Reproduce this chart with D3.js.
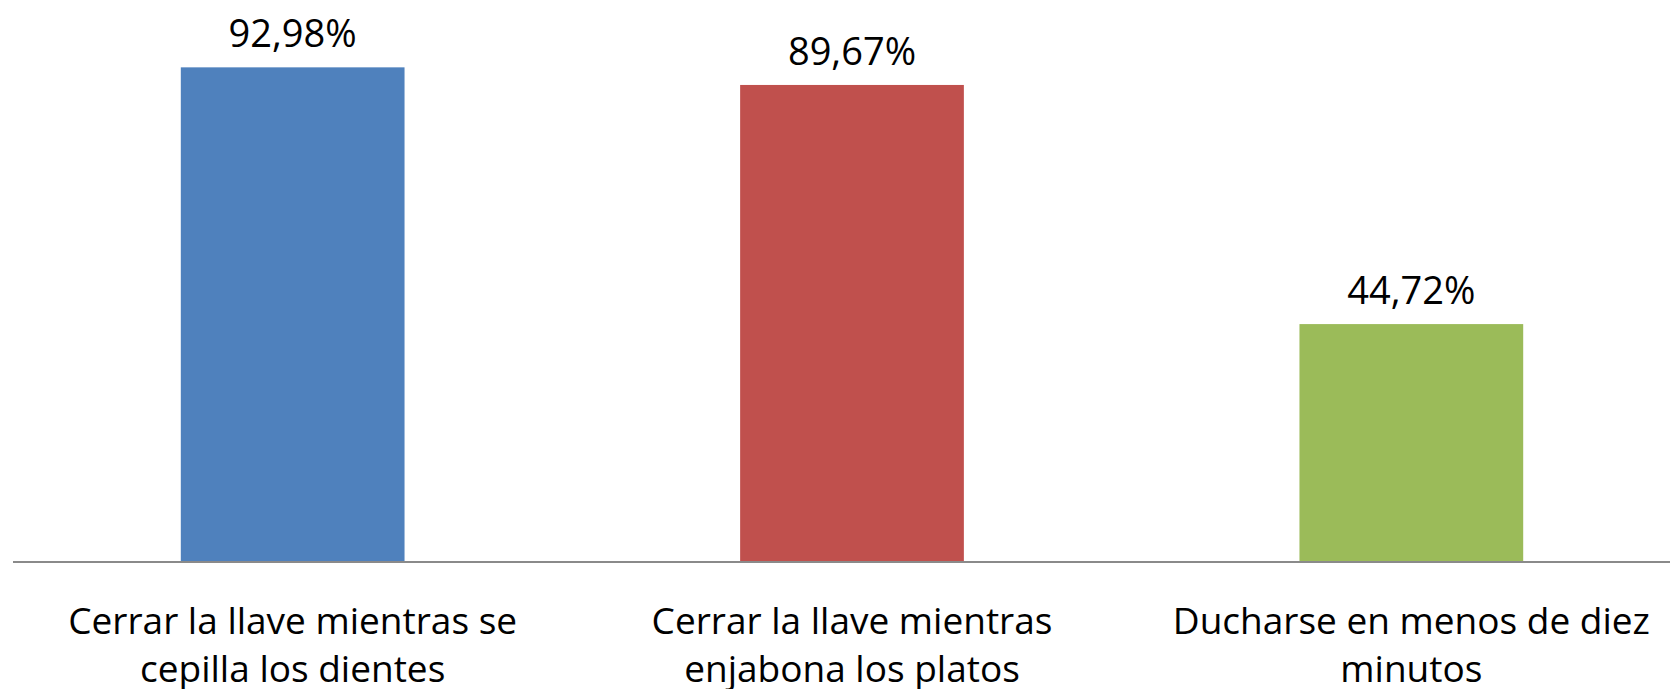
<!DOCTYPE html>
<html>
<head>
<meta charset="utf-8">
<script src="https://cdn.jsdelivr.net/npm/d3@7"></script>
<style>
  html, body { margin: 0; padding: 0; background: #ffffff; }
  svg { display: block; }
  text { font-family: "Open Sans", "Noto Sans", sans-serif; fill: #000; }
</style>
</head>
<body>
<svg id="chart" width="1670" height="689"></svg>
<script>
const categories = [
  ["Cerrar la llave mientras se", "cepilla los dientes"],
  ["Cerrar la llave mientras", "enjabona los platos"],
  ["Ducharse en menos de diez", "minutos"]
];
const values = [92.98, 89.67, 44.72];
const valueLabels = ["92,98%", "89,67%", "44,72%"];
const colors = ["#4F81BD", "#C0504D", "#9BBB59"];

const svg = d3.select("#chart");
const width = 1670, height = 689;
const left = 13, right = 1691, axisY = 562, topY = 30;

const x = d3.scaleBand()
  .domain(d3.range(values.length))
  .range([left, right])
  .paddingInner(0.6)
  .paddingOuter(0.3);

const y = d3.scaleLinear().domain([0, 100]).range([axisY, topY]);

svg.selectAll("rect.bar")
  .data(values)
  .enter().append("rect")
  .attr("class", "bar")
  .attr("x", (d, i) => x(i))
  .attr("width", x.bandwidth())
  .attr("y", d => y(d))
  .attr("height", d => y(0) - y(d))
  .attr("fill", (d, i) => colors[i]);

// axis line
const axis = d3.axisBottom(x).tickSize(0).tickFormat("");
const ga = svg.append("g").attr("transform", `translate(0,${axisY})`).call(axis);
ga.select(".domain").attr("stroke", "#8a8a8a").attr("stroke-width", 2)
  .attr("d", `M${left},0H${width}`);

// value labels
svg.selectAll("text.val")
  .data(values)
  .enter().append("text")
  .attr("class", "val")
  .attr("x", (d, i) => x(i) + x.bandwidth() / 2)
  .attr("y", d => y(d) - 20)
  .attr("text-anchor", "middle")
  .style("font-size", "38px")
  .text((d, i) => valueLabels[i]);

// category labels
const cat = svg.selectAll("text.cat")
  .data(categories)
  .enter().append("text")
  .attr("class", "cat")
  .attr("text-anchor", "middle")
  .style("font-size", "37px");
cat.selectAll("tspan")
  .data((d, i) => d.map(line => ({ line, i })))
  .enter().append("tspan")
  .attr("x", d => x(d.i) + x.bandwidth() / 2)
  .attr("y", (d, j) => 634 + j * 48)
  .text(d => d.line);
</script>
</body>
</html>
